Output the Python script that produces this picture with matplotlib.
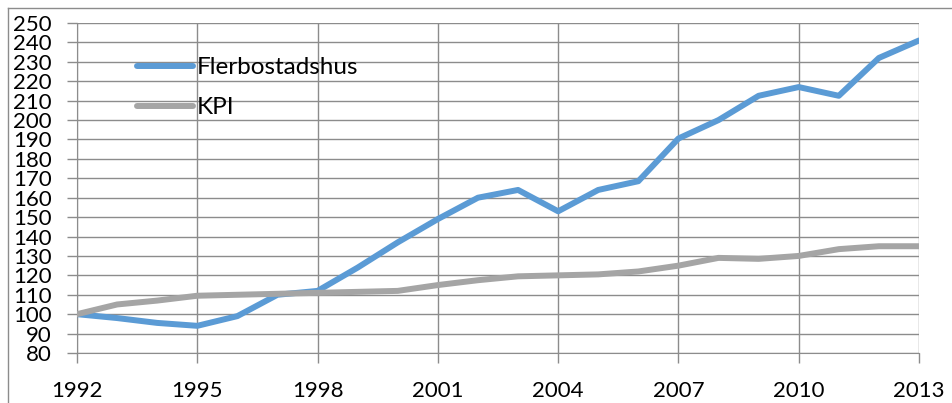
import numpy as np
import matplotlib
matplotlib.use("Agg")
import matplotlib.pyplot as plt
from matplotlib.lines import Line2D

plt.rcParams['font.family'] = ['Lato', 'DejaVu Sans']

years = list(range(1992, 2014))
flerbostadshus = [100, 98, 95.5, 94, 99, 110, 112, 124, 137, 149, 160, 164,
                  153, 164, 168.5, 190.5, 200, 212.5, 217, 212.5, 232, 241]
kpi = [100, 105, 107, 109.5, 110, 110.5, 111, 111.5, 112, 115, 117.5, 119.5,
       120, 120.5, 122, 125, 129, 128.5, 130, 133.5, 135, 135]
xticks = [1992, 1995, 1998, 2001, 2004, 2007, 2010, 2013]
yticks = list(range(80, 251, 10))

fig = plt.figure(figsize=(9.52, 4.03), dpi=100)
ax = fig.add_axes([77/952, 50/403, 842/952, 330/403])

grid_color = "#8c8c8c"

ax.plot(years, flerbostadshus, color="#5b9bd5", lw=4.3, label="Flerbostadshus",
        solid_capstyle="round", solid_joinstyle="round", zorder=3)
ax.plot(years, kpi, color="#a5a5a5", lw=4.3, label="KPI",
        solid_capstyle="round", solid_joinstyle="round", zorder=3)

ax.set_xlim(1992, 2013)
ax.set_ylim(80, 250)
ax.set_xticks(xticks)
ax.set_yticks(yticks)
ax.grid(True, color=grid_color, lw=1.0)
ax.set_axisbelow(True)

for s in ["top", "right"]:
    ax.spines[s].set_visible(False)
ax.spines["left"].set_color(grid_color)
ax.spines["bottom"].set_color(grid_color)

ax.tick_params(axis="both", labelsize=16, color=grid_color, length=7, width=1.0)
ax.tick_params(axis="y", pad=11)
ax.tick_params(axis="x", pad=13)

leg = ax.legend(loc="upper left", bbox_to_anchor=(60/842, 1 - 34/330), frameon=False,
                fontsize=17.5, handlelength=2.3, handletextpad=0.15, labelspacing=0.8,
                borderpad=0, borderaxespad=0)

# outer chart frame (only left and top edges visible)
fig.add_artist(Line2D([7.5/952, 7.5/952], [0, 1 - 7.5/403], color="#8c8c8c", lw=1.0,
                      transform=fig.transFigure))
fig.add_artist(Line2D([7.5/952, 1], [1 - 7.5/403, 1 - 7.5/403], color="#8c8c8c", lw=1.0,
                      transform=fig.transFigure))

fig.savefig("out.png", dpi=100)
plt.close(fig)
